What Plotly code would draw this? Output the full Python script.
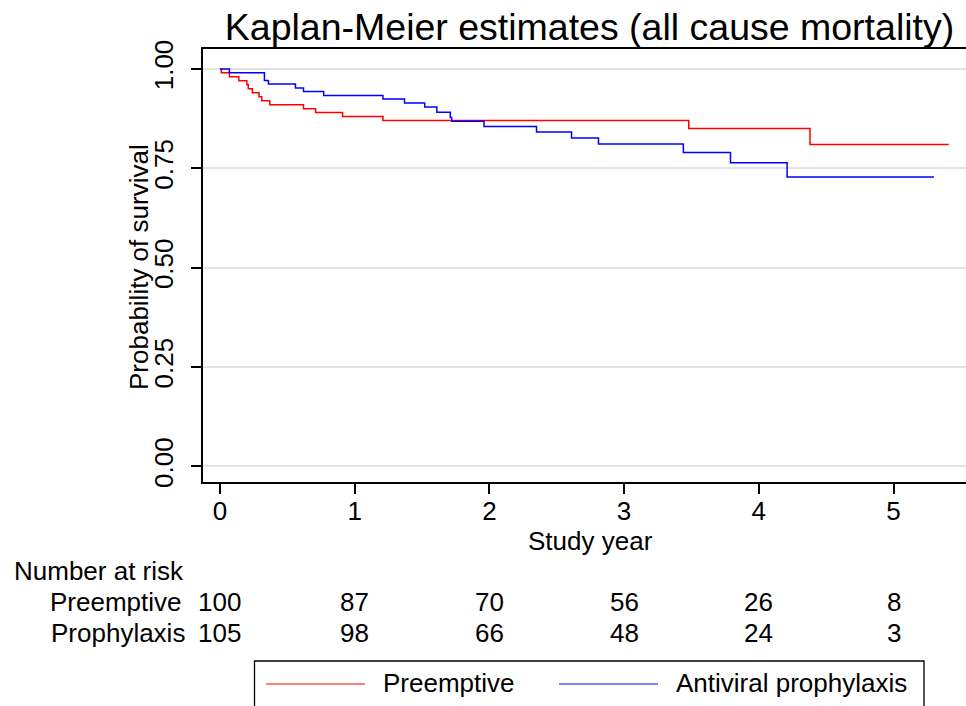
import plotly.graph_objects as go

# ---- data ----
pre_time = [0, 0.01, 0.07, 0.14, 0.20, 0.21, 0.24, 0.29, 0.31, 0.37, 0.62, 0.71, 0.91, 1.21, 3.48, 4.38, 5.41]
pre_surv = [1.0, 0.99, 0.98, 0.97, 0.96, 0.95, 0.94, 0.93, 0.92, 0.91, 0.90, 0.89, 0.88, 0.87, 0.85, 0.81, 0.81]

pro_time = [0, 0.07, 0.33, 0.36, 0.56, 0.62, 0.77, 1.21, 1.37, 1.52, 1.61, 1.71, 1.72, 1.96, 2.35, 2.61, 2.81, 3.44, 3.79, 4.21, 5.30]
pro_surv = [1.0, 0.99, 0.971, 0.962, 0.952, 0.943, 0.933, 0.924, 0.914, 0.904, 0.891, 0.878, 0.868, 0.855, 0.841, 0.826, 0.811, 0.79, 0.764, 0.728, 0.728]

risk_times = [0, 1, 2, 3, 4, 5]
risk_pre = [100, 87, 70, 56, 26, 8]
risk_pro = [105, 98, 66, 48, 24, 3]

y_ticks = [0, 0.25, 0.5, 0.75, 1.0]
y_ticklabels = ["0.00", "0.25", "0.50", "0.75", "1.00"]
x_ticks = [0, 1, 2, 3, 4, 5]

FONT = "Liberation Sans, Arial, sans-serif"
FS = 26
W, H = 966, 706
L, R, T, B = 203, 0, 49, 224
PW = W - L - R
PH = H - T - B


def px(x):
    return (x - L) / PW


def py(y):
    return (H - B - y) / PH


fig = go.Figure()
fig.add_trace(go.Scatter(x=pre_time, y=pre_surv, mode="lines", line=dict(color="#ff0000", width=1.5, shape="hv"),
                         name="Preemptive", showlegend=False, hoverinfo="skip"))
fig.add_trace(go.Scatter(x=pro_time, y=pro_surv, mode="lines", line=dict(color="#0000ff", width=1.5, shape="hv"),
                         name="Antiviral prophylaxis", showlegend=False, hoverinfo="skip"))

annotations = []
# axis titles
annotations.append(dict(text="Probability of survival", xref="paper", yref="paper", x=px(139), y=py(267),
                        xanchor="center", yanchor="middle", textangle=-90, showarrow=False, font=dict(size=FS)))
annotations.append(dict(text="Study year", xref="paper", yref="paper", x=px(590), y=py(541),
                        xanchor="center", yanchor="middle", showarrow=False, font=dict(size=FS)))
# number at risk table
annotations.append(dict(text="Number at risk", xref="paper", yref="paper", x=px(12), y=py(571),
                        xanchor="left", yanchor="middle", showarrow=False, font=dict(size=FS)))
annotations.append(dict(text="Preemptive", xref="paper", yref="paper", x=px(184), y=py(602),
                        xanchor="right", yanchor="middle", showarrow=False, font=dict(size=FS)))
annotations.append(dict(text="Prophylaxis", xref="paper", yref="paper", x=px(187), y=py(633),
                        xanchor="right", yanchor="middle", showarrow=False, font=dict(size=FS)))
for t, a, b in zip(risk_times, risk_pre, risk_pro):
    annotations.append(dict(text=str(a), xref="x", yref="paper", x=t, y=py(602), xanchor="center",
                            yanchor="middle", showarrow=False, font=dict(size=FS)))
    annotations.append(dict(text=str(b), xref="x", yref="paper", x=t, y=py(633), xanchor="center",
                            yanchor="middle", showarrow=False, font=dict(size=FS)))

# legend (manual)
shapes = [
    dict(type="rect", xref="paper", yref="paper", x0=px(254.5), x1=px(924), y0=py(661), y1=py(720),
         line=dict(color="black", width=1.3), fillcolor="rgba(0,0,0,0)"),
    dict(type="line", xref="paper", yref="paper", x0=px(266), x1=px(365), y0=py(684), y1=py(684),
         line=dict(color="#ff0000", width=1.2)),
    dict(type="line", xref="paper", yref="paper", x0=px(559), x1=px(658), y0=py(684), y1=py(684),
         line=dict(color="#0000ff", width=1.2)),
]
annotations.append(dict(text="Preemptive", xref="paper", yref="paper", x=px(381), y=py(683),
                        xanchor="left", yanchor="middle", showarrow=False, font=dict(size=FS)))
annotations.append(dict(text="Antiviral prophylaxis", xref="paper", yref="paper", x=px(674), y=py(683),
                        xanchor="left", yanchor="middle", showarrow=False, font=dict(size=FS)))

fig.update_layout(
    width=W, height=H,
    margin=dict(l=L, r=R, t=T, b=B),
    paper_bgcolor="white", plot_bgcolor="white",
    font=dict(family=FONT, size=FS, color="black"),
    showlegend=False,
    title=dict(text="Kaplan-Meier estimates (all cause mortality)", x=0.5 * (227 + 952) / W, xanchor="center",
               y=1 - 27 / H, yanchor="middle", yref="container", font=dict(size=37.5, color="black")),
    xaxis=dict(range=[-0.126, (W - 220) / 134.7], tickvals=x_ticks, ticks="outside", ticklen=10, tickwidth=2,
               tickcolor="black", showline=True, linecolor="black", linewidth=2, mirror=True,
               showgrid=False, zeroline=False, ticklabelstandoff=-5),
    yaxis=dict(range=[-0.039, 1.050], tickvals=y_ticks, ticktext=y_ticklabels, tickangle=-90,
               ticks="outside", ticklen=10, tickwidth=2, tickcolor="black",
               showline=True, linecolor="black", linewidth=2, mirror=False,
               showgrid=True, gridcolor="#e3e3e3", gridwidth=2, zeroline=False,
               ticklabelstandoff=8),
    annotations=annotations,
    shapes=shapes,
)

fig.write_html("out.html", config={"displayModeBar": False},
               post_script="document.body.style.margin='0';document.body.style.overflow='hidden';")
